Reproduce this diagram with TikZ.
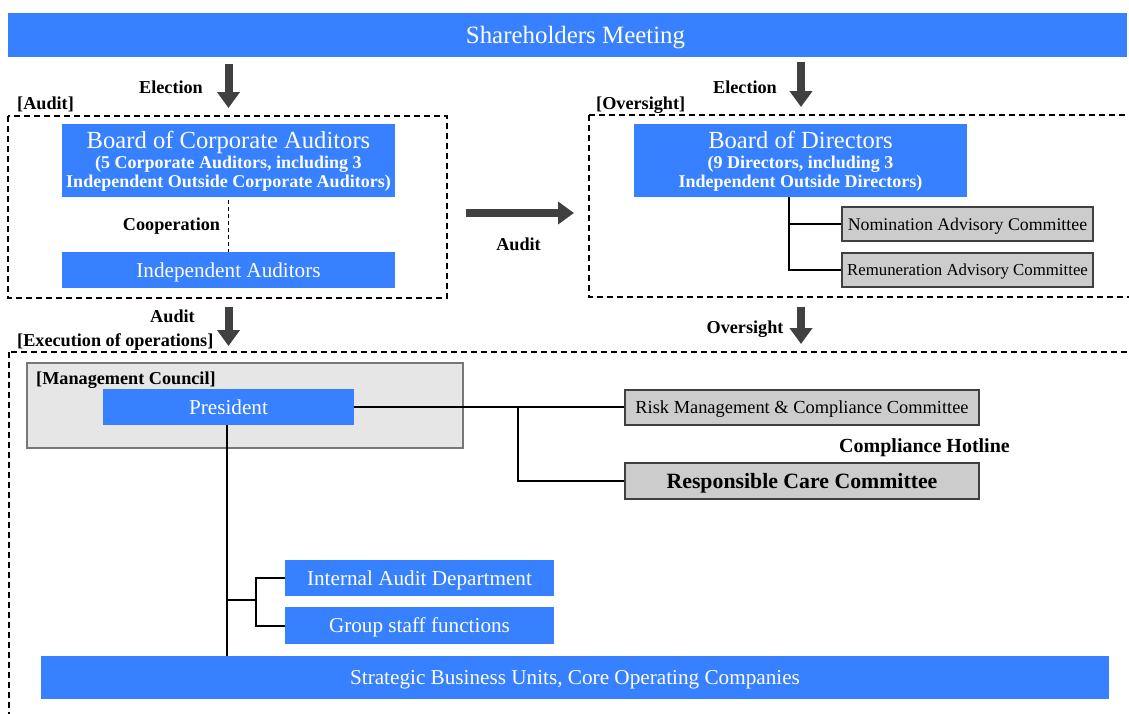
\documentclass[tikz,border=0pt]{standalone}
\usepackage{fontspec}
\setmainfont{Liberation Serif}
\usetikzlibrary{arrows.meta}
\definecolor{bblue}{RGB}{55,128,255}
\definecolor{agray}{RGB}{64,64,64}
\definecolor{cgray}{RGB}{204,204,204}
\definecolor{mgray}{RGB}{230,230,230}
\definecolor{mborder}{RGB}{119,119,119}
\begin{document}
\begin{tikzpicture}[x=1pt,y=-1pt,
  wh/.style 2 args={minimum width=#1,minimum height=#2},
  bluebox/.style={fill=bblue,draw=none,inner sep=0pt,text=white,text depth=0pt},
  graybox/.style={fill=cgray,draw=agray,line width=1.5pt,inner sep=0pt,text=black,text depth=0pt},
  lbl/.style={inner sep=0pt,text depth=0pt,font=\fontsize{18.2}{20}\bfseries\selectfont},
  dbox/.style={draw=black,line width=2pt,dash pattern=on 6pt off 4pt},
  bigarrow/.style={draw=agray,line width=8pt,-{Triangle[width=22pt,length=16pt]}},
  conn/.style={draw=black,line width=2pt},
  title/.style={inner sep=0pt,text=white,text depth=0pt,font=\fontsize{24.6}{26}\selectfont},
  subt/.style={inner sep=0pt,text=white,align=center,font=\fontsize{18}{19}\bfseries\selectfont},
  boxtext/.style={font=\fontsize{21.2}{23}\selectfont}
]
\useasboundingbox (0,0) rectangle (1129,713);

% dashed group frames (partly running off the page)
\begin{scope}
\clip (0,0) rectangle (1129,713);
\draw[dbox] (8,116) rectangle (447,298);
\draw[dbox] (589,115) rectangle (1145,297);
\draw[dbox] (9,352) rectangle (1145,730);
\end{scope}

% shareholders
\node[bluebox,wh={1119}{44},font=\fontsize{24.9}{26}\selectfont] (sh) at (567.5,35) {\hspace*{16pt}Shareholders Meeting};

% election arrows
\coordinate (ea1s) at (228.5,64);
\coordinate (ea1e) at (228.5,108);
\draw[bigarrow] (ea1s) -- (ea1e);
\coordinate (ea2s) at (801,62);
\coordinate (ea2e) at (801,107);
\draw[bigarrow] (ea2s) -- (ea2e);
\node[lbl] (el1) at (171,87) {Election};
\node[lbl] (el2) at (745,87) {Election};
\node[lbl,anchor=west] (audtag) at (17,103) {[Audit]};
\node[lbl,anchor=west] (ovtag) at (596,103) {[Oversight]};

% auditors side
\node[bluebox,wh={333}{73}] (bca) at (228.5,160.5) {};
\node[title] (bcat) at (228.5,140) {Board of Corporate Auditors};
\node[subt] (bcas) at (228.5,173.5) {(5 Corporate Auditors, including 3\\Independent Outside Corporate Auditors)};
\node[bluebox,wh={333}{36},boxtext] (ia) at (228.5,270) {Independent Auditors};
\coordinate (cpa) at (228.5,200);
\coordinate (cpb) at (228.5,252);
\draw[black,line width=1pt,dash pattern=on 4pt off 3pt] (cpa) -- (cpb);
\node[lbl] (coop) at (171.5,224) {Cooperation};

% audit arrow to the right
\coordinate (aas) at (466,213);
\coordinate (aae) at (574,213);
\draw[bigarrow] (aas) -- (aae);
\node[lbl] (audr) at (518.5,244) {Audit};

% directors side
\node[bluebox,wh={333}{73}] (bod) at (800.5,160.5) {};
\node[title] (bodt) at (800.5,140) {Board of Directors};
\node[subt] (bods) at (800.5,173.5) {(9 Directors, including 3\\Independent Outside Directors)};
\node[graybox,wh={251}{34},font=\fontsize{17.8}{19}\selectfont] (nom) at (967.5,224) {Nomination Advisory Committee};
\node[graybox,wh={251}{34},font=\fontsize{16.8}{19}\selectfont] (rem) at (967.5,270) {Remuneration Advisory Committee};
\coordinate (bj) at (789,197);
\draw[conn] (bj) |- (nom.west);
\draw[conn] (bj) |- (rem.west);

% lower arrows
\coordinate (la1s) at (228.5,307);
\coordinate (la1e) at (228.5,346);
\draw[bigarrow] (la1s) -- (la1e);
\coordinate (la2s) at (801,307);
\coordinate (la2e) at (801,344);
\draw[bigarrow] (la2s) -- (la2e);
\node[lbl] (audl) at (172.5,316) {Audit};
\node[lbl,anchor=west] (exec) at (17,340) {[Execution of operations]};
\node[lbl] (ovs) at (745,327) {Oversight};

% management council
\node[fill=mgray,draw=mborder,line width=2pt,wh={436}{85},inner sep=0pt] (mc) at (245,405.5) {};
\node[lbl,anchor=west] (mct) at (36,378) {[Management Council]};
\node[bluebox,wh={251}{36},boxtext] (pres) at (228.5,407) {President};

% committees
\node[graybox,wh={354}{35},font=\fontsize{18.4}{20}\selectfont] (risk) at (802,407.5) {Risk Management \& Compliance Committee};
\node[graybox,wh={354}{36},font=\fontsize{21.8}{23}\bfseries\selectfont] (rcc) at (802,481) {Responsible Care Committee};
\node[lbl,font=\fontsize{20}{22}\bfseries\selectfont] (hot) at (924.5,446) {Compliance Hotline};
\draw[conn] (pres.east) -- (pres.east -| risk.west);
\coordinate (pj) at (518,407);
\draw[conn] (pj) |- (rcc.west);

% lower part
\node[bluebox,wh={269}{36},boxtext] (iad) at (419.5,578) {Internal Audit Department};
\node[bluebox,wh={269}{37},boxtext] (gsf) at (419.5,625.5) {Group staff functions};
\node[bluebox,wh={1068}{43},boxtext] (sbu) at (575,677.5) {Strategic Business Units, Core Operating Companies};
\draw[conn] (pres.south -| 227,0) -- (sbu.north -| 227,0);
\coordinate (sj) at (227,600);
\coordinate (sk) at (256,600);
\draw[conn] (sj) -- (sk);
\draw[conn] (sk) |- (iad.west);
\draw[conn] (sk) |- (gsf.west);
\end{tikzpicture}
\end{document}
